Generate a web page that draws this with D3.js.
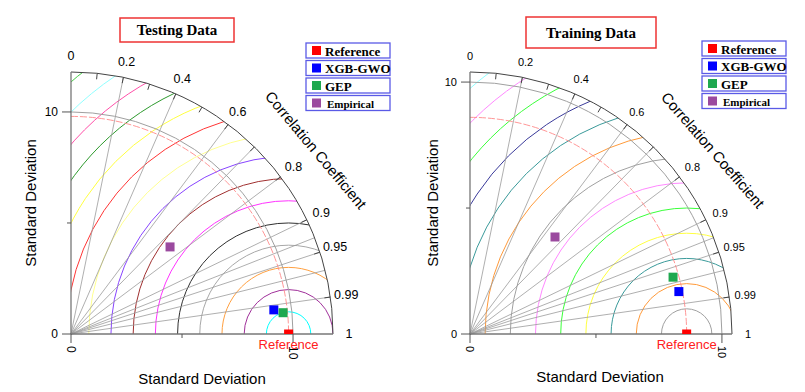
<!DOCTYPE html>
<html>
<head>
<meta charset="utf-8">
<script src="https://cdn.jsdelivr.net/npm/d3@7"></script>
<style>
  body { margin: 0; background: #fff; }
  text { font-family: Arial, "Liberation Sans", sans-serif; }
</style>
</head>
<body>
<script>
// models, in legend / drawing order
var models = ["Reference", "XGB-GWO", "GEP", "Empirical"];
var modelColors = ["#ff0000", "#0000ff", "#1fa84f", "#9b4a9f"];

// testing data (std dev, correlation)
var testStd = [9.8, 9.2, 9.6, 5.94];
var testCorr = [1, 0.993, 0.995, 0.751];

// training data
var trainStd = [8.6, 8.46, 8.37, 5.12];
var trainCorr = [1, 0.980, 0.963, 0.659];

// correlation axis
var corrLabels = [0, 0.2, 0.4, 0.6, 0.8, 0.9, 0.95, 0.99, 1];
var corrLines = [0.2, 0.4, 0.6, 0.7, 0.8, 0.9, 0.93, 0.95, 0.97, 0.99];
var corrTicks = [0.1, 0.2, 0.3, 0.4, 0.5, 0.6, 0.7, 0.8, 0.9, 0.95, 0.99];

// std axis
var stdTicks = [0, 5, 10];
var stdLabels = [0, 10];

// centred RMS difference circles
var testRms = [1, 2, 3, 4, 5, 6, 7, 8, 9, 10, 11, 12, 13, 14, 15];
var testRmsColors = ["#00ffff", "#a0309a", "#ffa040", "#a8a8a8", "#303030", "#ff33ff", "#a03030",
                     "#8844ff", "#ffff90", "#ff3535", "#ffff40", "#2e9a2e", "#ff4fa8", "#90ffff", "#44cc44"];
var trainRms = [1, 2, 3, 4, 5, 6, 7, 8, 9, 10, 11, 12, 13];
var trainRmsColors = ["#a0a0a0", "#ff9a3a", "#3a9a9a", "#ffff40", "#3aff3a", "#ff88ff", "#a0a0a0",
                      "#ff9a3a", "#3a9a9a", "#3a3a9a", "#3aff3a", "#ff88ff", "#90ffff"];

var width = 805, height = 392;
var svg = d3.select("body").append("svg")
    .attr("width", width)
    .attr("height", height);

var panels = [
    { id: "test", title: "Testing Data", std: testStd, corr: testCorr, rms: testRms, rmsColors: testRmsColors,
      ox: 71, oy: 334, maxStd: 11.8, box: [120, 18, 114, 24], legend: [306, 43],
      corrTitle: [316, 150, 50], yTitleX: 30, xTitleY: 384, xTitleX: 202, corrFont: 12.5, tickFont: 12 },
    { id: "train", title: "Training Data", std: trainStd, corr: trainCorr, rms: trainRms, rmsColors: trainRmsColors,
      ox: 470, oy: 334, maxStd: 10.4, box: [526, 17, 130, 31], legend: [702, 41],
      corrTitle: [713, 150, 49], yTitleX: 432, xTitleY: 382, xTitleX: 600, corrFont: 11, tickFont: 11 }
];

panels.forEach(drawPanel);

function drawPanel(p) {
    var R = 262;
    var r = d3.scaleLinear().domain([0, p.maxStd]).range([0, R]);
    var g = svg.append("g").attr("transform", "translate(" + p.ox + "," + p.oy + ")");

    function px(s, c) { return r(s) * c; }
    function py(s, c) { return -r(s) * Math.sqrt(Math.max(0, 1 - c * c)); }
    function quarter(rad) {
        var path = d3.path();
        path.moveTo(0, -rad);
        path.arc(0, 0, rad, -Math.PI / 2, 0);
        return path.toString();
    }

    // clip to the quarter disc
    svg.append("clipPath").attr("id", "clip-" + p.id)
        .append("path")
        .attr("d", d3.arc().innerRadius(0).outerRadius(R).startAngle(0).endAngle(Math.PI / 2)());

    var inner = g.append("g").attr("clip-path", "url(#clip-" + p.id + ")");

    // RMS circles around the reference point
    var refX = r(p.std[0]);
    inner.selectAll("circle.rms")
        .data(p.rms)
        .enter()
        .append("circle")
        .attr("class", "rms")
        .attr("cx", refX)
        .attr("cy", 0)
        .attr("r", function (d) { return r(d); })
        .style("fill", "none")
        .style("stroke", function (d, i) { return p.rmsColors[i]; })
        .style("stroke-width", 1);

    // correlation lines
    g.selectAll("line.corr")
        .data(corrLines)
        .enter()
        .append("line")
        .attr("x1", 0).attr("y1", 0)
        .attr("x2", function (c) { return px(p.maxStd, c); })
        .attr("y2", function (c) { return py(p.maxStd, c); })
        .style("stroke", "#9a9a9a")
        .style("stroke-width", 0.8);

    // std = 10 circle and reference std arc
    g.append("path").attr("d", quarter(r(10)))
        .style("fill", "none").style("stroke", "#a0a0a0").style("stroke-width", 1);
    g.append("path").attr("d", quarter(r(p.std[0])))
        .style("fill", "none").style("stroke", "#ff8a8a").style("stroke-width", 0.9)
        .style("stroke-dasharray", "7,2");

    // outer arc + ticks
    g.append("path").attr("d", quarter(R))
        .style("fill", "none").style("stroke", "#444").style("stroke-width", 1);
    g.selectAll("line.ctick")
        .data(corrTicks)
        .enter()
        .append("line")
        .attr("x1", function (c) { return px(p.maxStd, c); })
        .attr("y1", function (c) { return py(p.maxStd, c); })
        .attr("x2", function (c) { return (R - 6) / R * px(p.maxStd, c); })
        .attr("y2", function (c) { return (R - 6) / R * py(p.maxStd, c); })
        .style("stroke", "#444");

    // correlation labels
    var rl = R + 16;
    g.selectAll("text.clab")
        .data(corrLabels)
        .enter()
        .append("text")
        .attr("x", function (c) { return rl * c; })
        .attr("y", function (c) { return -rl * Math.sqrt(1 - c * c); })
        .attr("text-anchor", "middle")
        .attr("dominant-baseline", "central")
        .style("font-size", p.corrFont + "px")
        .text(function (c) { return c; });

    // std axes
    g.append("line").attr("x1", 0).attr("y1", 0).attr("x2", 0).attr("y2", -R)
        .style("stroke", "#777").style("stroke-width", 1.3);
    g.append("line").attr("x1", 0).attr("y1", 0).attr("x2", R).attr("y2", 0)
        .style("stroke", "#777").style("stroke-width", 1.3);
    g.selectAll("line.ytick").data(stdTicks).enter().append("line")
        .attr("x1", function (d) { return d % 10 === 0 ? -9 : -4; }).attr("x2", 0)
        .attr("y1", function (d) { return -r(d); }).attr("y2", function (d) { return -r(d); })
        .style("stroke", "#555");
    g.selectAll("line.xtick").data(stdTicks).enter().append("line")
        .attr("y1", 0).attr("y2", function (d) { return d % 10 === 0 ? 9 : 4; })
        .attr("x1", function (d) { return r(d); }).attr("x2", function (d) { return r(d); })
        .style("stroke", "#555");
    g.selectAll("text.ylab").data(stdLabels).enter().append("text")
        .attr("x", -13).attr("y", function (d) { return -r(d); })
        .attr("text-anchor", "end").attr("dominant-baseline", "central")
        .style("font-size", p.tickFont + "px")
        .text(function (d) { return d; });
    g.selectAll("text.xlab").data(stdLabels).enter().append("text")
        .attr("transform", function (d) { return "translate(" + r(d) + ",12) rotate(90)"; })
        .attr("text-anchor", "start").attr("dominant-baseline", "central")
        .style("font-size", p.tickFont + "px")
        .text(function (d) { return d; });

    // points
    var pts = g.append("g").attr("clip-path", "url(#clip-" + p.id + ")");
    pts.selectAll("rect")
        .data(models)
        .enter()
        .append("rect")
        .attr("x", function (d, i) { return px(p.std[i], p.corr[i]) - 4.5; })
        .attr("y", function (d, i) { return py(p.std[i], p.corr[i]) - 4.5; })
        .attr("width", 9).attr("height", 9)
        .style("fill", function (d, i) { return modelColors[i]; });

    g.append("text")
        .attr("x", refX).attr("y", 10)
        .attr("text-anchor", "middle").attr("dominant-baseline", "central")
        .style("font-size", "13px").style("fill", "#ff2020")
        .text("Reference");

    // axis titles
    svg.append("text")
        .attr("transform", "translate(" + p.yTitleX + ",203) rotate(-90)")
        .attr("text-anchor", "middle").attr("dominant-baseline", "central")
        .style("font-size", "15px")
        .text("Standard Deviation");
    svg.append("text")
        .attr("x", p.xTitleX).attr("y", p.xTitleY)
        .attr("text-anchor", "middle")
        .style("font-size", "15px")
        .text("Standard Deviation");
    svg.append("text")
        .attr("transform", "translate(" + p.corrTitle[0] + "," + p.corrTitle[1] + ") rotate(" + p.corrTitle[2] + ")")
        .attr("text-anchor", "middle").attr("dominant-baseline", "central")
        .style("font-size", "15px")
        .text("Correlation Coefficient");

    // title box
    svg.append("rect")
        .attr("x", p.box[0]).attr("y", p.box[1]).attr("width", p.box[2]).attr("height", p.box[3])
        .style("fill", "#fff").style("stroke", "#ee3333").style("stroke-width", 1.5);
    svg.append("text")
        .attr("x", p.box[0] + p.box[2] / 2).attr("y", p.box[1] + p.box[3] / 2)
        .attr("text-anchor", "middle").attr("dominant-baseline", "central")
        .style("font-family", "'Liberation Serif', 'Times New Roman', serif")
        .style("font-weight", "bold").style("font-size", "15px")
        .text(p.title);

    // legend
    var leg = svg.append("g").attr("transform", "translate(" + p.legend[0] + "," + p.legend[1] + ")");
    var rows = leg.selectAll("g").data(models).enter().append("g")
        .attr("transform", function (d, i) { return "translate(0," + (i * 17.5) + ")"; });
    rows.append("rect")
        .attr("width", 84).attr("height", 15)
        .style("fill", "#fff").style("stroke", "#5a5ae6").style("stroke-width", 1.3);
    rows.append("rect")
        .attr("x", 6).attr("y", 3).attr("width", 9).attr("height", 9)
        .style("fill", function (d, i) { return modelColors[i]; });
    rows.append("text")
        .attr("x", function (d) { return d === "Empirical" ? 21 : 19; }).attr("y", 8)
        .attr("dominant-baseline", "central")
        .style("font-family", "'Liberation Serif', 'Times New Roman', serif")
        .style("font-weight", "bold")
        .style("font-size", function (d) { return d === "Empirical" ? "11px" : "13px"; })
        .text(function (d) { return d; });
}
</script>
</body>
</html>
